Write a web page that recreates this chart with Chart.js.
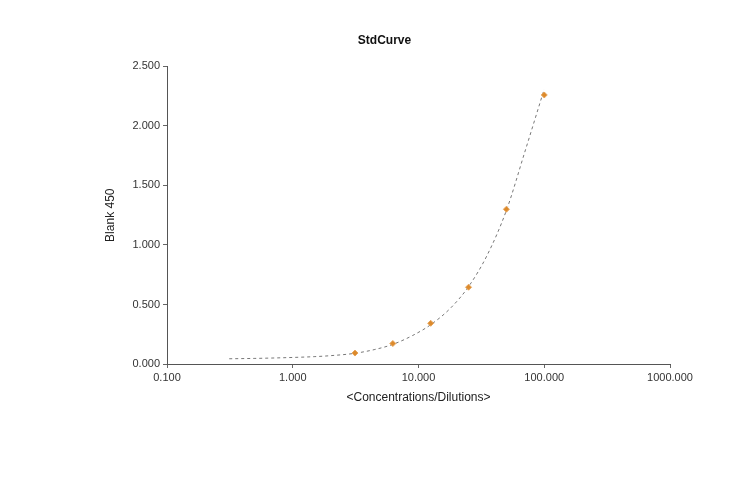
<!DOCTYPE html>
<html>
<head>
<meta charset="utf-8">
<script src="https://cdn.jsdelivr.net/npm/chart.js@4"></script>
<style>
  html, body { margin: 0; padding: 0; background: #fff; }
  #wrap { width: 755px; height: 482px; }
</style>
</head>
<body>
<div id="wrap"><canvas id="std-curve"></canvas></div>
<script>
// standards (concentration / measured blank-corrected OD)
var stdConc = [3.125, 6.25, 12.5, 25, 50, 100];
var stdValues = [0.092, 0.172, 0.342, 0.645, 1.30, 2.26];

// fitted curve
var fitConc = [0.3125, 0.5, 0.8, 1, 1.5, 2, 3.125, 4.5, 6.25, 9, 12.5, 18, 25, 35, 50, 70, 100];
var fitValues = [0.044, 0.047, 0.052, 0.055, 0.062, 0.070, 0.090, 0.122, 0.165, 0.240, 0.330, 0.470, 0.650, 0.910, 1.290, 1.780, 2.310];

var xTicks = [0.1, 1, 10, 100, 1000];

function toPoints(xs, ys) {
  return xs.map((x, i) => ({ x: x, y: ys[i] }));
}

function plotStdCurve() {
  var canvas = document.getElementById("std-curve");
  var ctx = canvas.getContext("2d");

  new Chart(ctx, {
    type: "scatter",
    data: {
      datasets: [
        {
          label: "Fit",
          data: toPoints(fitConc, fitValues),
          showLine: true,
          borderColor: "#777777",
          borderWidth: 1,
          borderDash: [3, 3],
          cubicInterpolationMode: "monotone",
          pointRadius: 0,
          order: 2,
        },
        {
          label: "Standards",
          data: toPoints(stdConc, stdValues),
          pointStyle: "rectRot",
          pointRadius: 3,
          backgroundColor: "#dc8a2c",
          borderColor: "#e8a55a",
          borderWidth: 1,
          order: 1,
        },
      ],
    },
    options: {
      responsive: true,
      maintainAspectRatio: false,
      animation: false,
      layout: {
        padding: { left: 99, right: 85, top: 0, bottom: 73 },
      },
      plugins: {
        legend: { display: false },
        tooltip: { enabled: false },
        title: {
          display: true,
          text: "StdCurve",
          color: "#111",
          font: { family: "Liberation Sans", size: 12, weight: "bold", lineHeight: 1.2 },
          padding: { top: 33, bottom: 19 },
        },
      },
      scales: {
        x: {
          type: "logarithmic",
          min: 0.1,
          max: 1000,
          afterBuildTicks: (scale) => {
            scale.ticks = xTicks.map((v) => ({ value: v }));
          },
          afterFit: (scale) => {
            scale.height = 45; // keep plot bottom at 364
          },
          grid: { drawOnChartArea: false, tickLength: 4, color: "#666" },
          border: { color: "#555", width: 1 },
          ticks: {
            color: "#333",
            padding: 3,
            maxRotation: 0,
            autoSkip: false,
            font: { family: "Liberation Sans", size: 11 },
            callback: (v) => Number(v).toFixed(3),
          },
          title: {
            display: true,
            text: "<Concentrations/Dilutions>",
            color: "#222",
            font: { family: "Liberation Sans", size: 12 },
            padding: { top: 0, bottom: 4 },
          },
        },
        y: {
          min: 0,
          max: 2.5,
          afterFit: (scale) => {
            scale.width = 68; // keep plot left at 167
          },
          grid: { drawOnChartArea: false, tickLength: 4, color: "#666" },
          border: { color: "#555", width: 1 },
          ticks: {
            stepSize: 0.5,
            color: "#333",
            padding: 3,
            font: { family: "Liberation Sans", size: 11 },
            callback: (v) => Number(v).toFixed(3),
          },
          title: {
            display: true,
            text: "Blank 450",
            color: "#222",
            font: { family: "Liberation Sans", size: 12 },
            padding: { top: 4, bottom: 0 },
          },
        },
      },
    },
  });
}

plotStdCurve();
</script>
</body>
</html>
